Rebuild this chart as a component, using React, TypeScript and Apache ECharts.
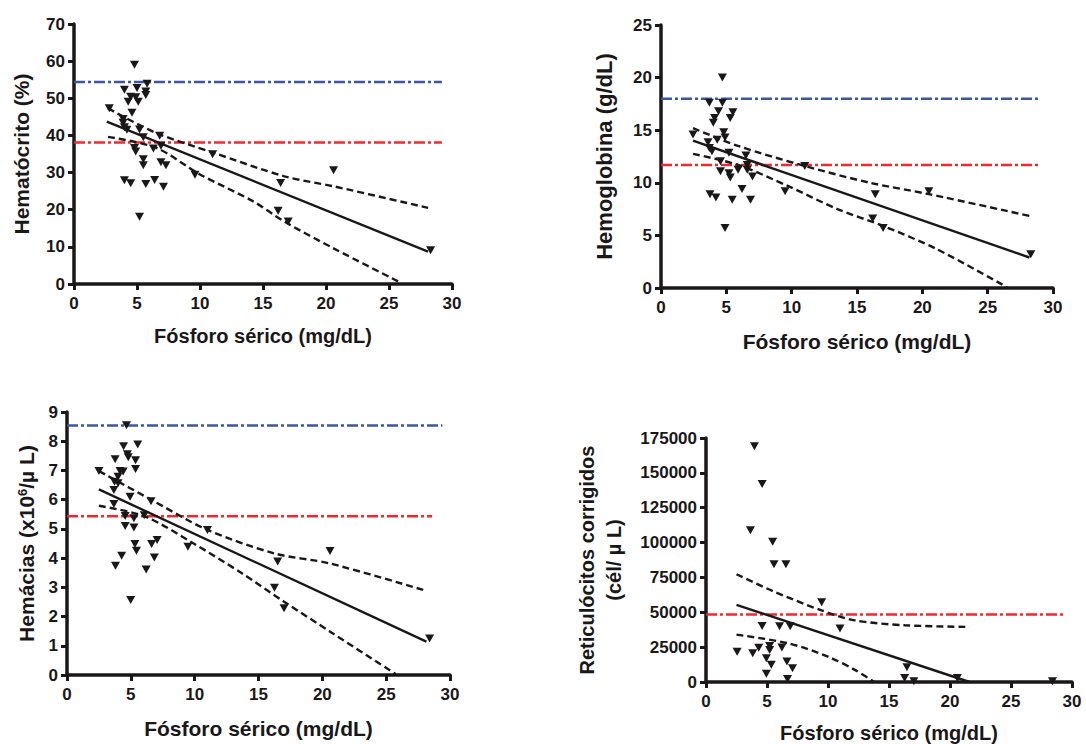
import React, { useEffect, useRef } from 'react';
import * as echarts from 'echarts';

const INK = '#1a1718';
const BLUE = '#3b56a5';
const RED = '#ee2a2e';
const FONT = '"Liberation Sans", Arial, Helvetica, sans-serif';

const phosphorusMin = 0;
const phosphorusMax = 30;
const phosphorusStep = 5;
const xTitle = 'Fósforo sérico (mg/dL)';

// Panel 1: Hematócrito (%)
const hctPoints = [
  [4.8, 59.0], [5.8, 53.9], [4.0, 52.3], [5.0, 52.8], [5.7, 51.8], [5.7, 50.9], [4.5, 50.4], [4.9, 50.3],
  [4.3, 49.1], [5.1, 49.1], [2.8, 47.3], [4.6, 46.1], [3.9, 44.4], [3.9, 43.4], [4.0, 42.2], [4.2, 41.5],
  [5.2, 41.6], [5.5, 39.5], [6.8, 39.9], [6.9, 37.2], [4.8, 36.6], [4.9, 35.7], [6.3, 36.5], [5.5, 33.6],
  [5.5, 32.0], [6.9, 32.8], [7.3, 32.0], [4.0, 27.9], [4.5, 27.1], [5.7, 26.9], [6.4, 28.0], [7.1, 26.2],
  [5.2, 18.1], [9.6, 29.4], [11.0, 34.9], [16.4, 27.2], [16.2, 19.7], [17.0, 16.8], [20.6, 30.6], [28.3, 9.1],
];
const hctFit = [[2.6, 43.7], [28.1, 8.7]];
const hctUpper = [[2.7, 47.3], [6.5, 40.7], [11.1, 35.3], [16.7, 29.0], [20.6, 26.3], [28.1, 20.5]];
const hctLower = [[2.7, 39.6], [6.5, 36.7], [10.0, 29.5], [14.2, 22.3], [16.7, 16.8], [20.6, 9.6], [25.9, 0.4]];
const hctRefHigh = 54.4;
const hctRefLow = 38.1;
const hctRefEnd = 29.2;
const hctMax = 70;
const hctStep = 10;

// Panel 2: Hemoglobina (g/dL)
const hbPoints = [
  [4.7, 20.0], [3.7, 17.6], [4.7, 17.6], [4.4, 16.8], [5.5, 16.7], [4.1, 16.15], [5.3, 16.15], [4.0, 15.7],
  [2.45, 14.6], [4.8, 14.8], [4.9, 14.3], [3.6, 13.85], [3.7, 13.3], [4.3, 14.1], [3.9, 13.0], [5.2, 12.85],
  [6.5, 12.6], [4.55, 12.05], [6.6, 11.7], [4.55, 11.1], [5.9, 11.25], [6.6, 11.25], [5.2, 10.9], [5.3, 10.5],
  [7.0, 10.6], [6.2, 9.4], [3.75, 8.9], [4.2, 8.6], [5.45, 8.4], [6.85, 8.4], [9.5, 9.2], [11.0, 11.6],
  [4.9, 5.7], [16.4, 8.9], [16.2, 6.6], [17.0, 5.7], [20.5, 9.2], [28.3, 3.2],
];
const hbFit = [[2.45, 14.0], [28.2, 2.9]];
const hbUpper = [[2.45, 15.2], [5.9, 13.5], [11.0, 11.6], [16.0, 10.0], [20.6, 8.9], [28.2, 6.85]];
const hbLower = [[2.45, 12.75], [5.9, 11.7], [9.7, 9.7], [13.5, 7.5], [17.0, 5.9], [21.1, 3.7], [26.5, 0.06]];
const hbRefHigh = 18.0;
const hbRefLow = 11.7;
const hbRefEnd = 28.9;
const hbMax = 25;
const hbStep = 5;

// Panel 3: Hemácias (x10^6/µL)
const rbcPoints = [
  [4.66, 8.55], [4.43, 7.83], [5.54, 7.89], [4.73, 7.55], [4.8, 7.45], [3.77, 7.38], [5.37, 7.35], [5.37, 7.05],
  [2.5, 6.98], [4.15, 6.98], [4.4, 6.96], [4.0, 6.78], [3.72, 6.61], [4.0, 6.56], [3.67, 6.33], [4.94, 6.1],
  [6.58, 5.95], [3.67, 5.85], [4.56, 5.44], [5.24, 5.36], [6.05, 5.47], [4.56, 5.1], [5.24, 5.05], [5.32, 4.48],
  [5.44, 4.25], [6.63, 4.48], [7.06, 4.62], [6.84, 4.02], [4.28, 4.08], [3.8, 3.74], [6.2, 3.61], [4.99, 2.57],
  [9.47, 4.39], [11.0, 4.96], [16.5, 3.88], [16.25, 2.99], [17.0, 2.28], [20.6, 4.24], [28.4, 1.25],
];
const rbcFit = [[2.5, 6.35], [28.15, 1.14]];
const rbcUpper = [[2.5, 6.98], [6.63, 5.99], [10.94, 4.98], [16.25, 4.16], [20.56, 3.82], [27.9, 2.91]];
const rbcLower = [[2.5, 5.79], [6.13, 5.42], [9.92, 4.5], [13.7, 3.48], [17.0, 2.51], [20.8, 1.43], [25.75, 0.03]];
const rbcRefHigh = 8.54;
const rbcRefLow = 5.43;
const rbcRefHighEnd = 29.4;
const rbcRefLowEnd = 28.6;
const rbcMax = 9;
const rbcStep = 1;

// Panel 4: Reticulócitos corrigidos (cél/µL)
const retPoints = [
  [3.97, 169000], [4.6, 142000], [3.64, 108800], [5.46, 100500], [5.57, 84400], [6.55, 84400], [9.48, 57200],
  [10.98, 38300], [4.6, 40200], [6.03, 39950], [6.9, 39950], [2.55, 21700], [3.83, 20600], [4.32, 24600],
  [5.22, 25800], [5.22, 22900], [6.22, 24800], [4.95, 17000], [5.35, 12300], [6.63, 14700], [7.09, 9900],
  [4.95, 5900], [6.68, 2100], [16.47, 10600], [16.28, 2800], [17.04, 500], [20.6, 2800], [28.4, 500],
];
const retFit = [[2.5, 55300], [21.6, 0]];
const retUpper = [[2.5, 77300], [5.4, 65500], [9.48, 51300], [12.2, 44200], [16.3, 40700], [21.6, 39500]];
const retLower = [[2.5, 34000], [6.77, 27700], [10.0, 18200], [12.2, 8700], [13.8, 0]];
const retRefLow = 48500;
const retRefEnd = 29.45;
const retMax = 175000;
const retStep = 25000;

const triangle = 'path://M0,0 L10,0 L5,9 Z';

const plain = (v: number) => String(v);

function xAxis(gridIndex: number, nameGap: number, nameSize: number) {
  return {
    type: 'value',
    gridIndex,
    min: phosphorusMin,
    max: phosphorusMax,
    interval: phosphorusStep,
    name: xTitle,
    nameLocation: 'middle',
    nameGap,
    nameTextStyle: { fontFamily: FONT, fontWeight: 'bold', fontSize: nameSize, color: INK },
    axisLine: { show: true, lineStyle: { color: INK, width: 3.5 } },
    axisTick: { show: true, length: 6, lineStyle: { color: INK, width: 3 } },
    axisLabel: { fontFamily: FONT, fontWeight: 'bold', fontSize: 17, color: INK, margin: 11, formatter: plain },
    splitLine: { show: false },
  };
}

function yAxis(gridIndex: number, max: number, interval: number, name: string, nameGap: number, nameSize: number, extra: any = {}) {
  return {
    type: 'value',
    gridIndex,
    min: 0,
    max,
    interval,
    name,
    nameLocation: 'middle',
    nameGap,
    nameTextStyle: { fontFamily: FONT, fontWeight: 'bold', fontSize: nameSize, color: INK, ...(extra.nameTextStyle || {}) },
    axisLine: { show: true, lineStyle: { color: INK, width: 3.5 } },
    axisTick: { show: true, length: 6, lineStyle: { color: INK, width: 3 } },
    axisLabel: { fontFamily: FONT, fontWeight: 'bold', fontSize: 17, color: INK, margin: 9, formatter: plain },
    splitLine: { show: false },
  };
}

function panelSeries(i: number, points: number[][], fit: number[][], upper: number[][], lower: number[][], refs: { value: number; end: number; color: string }[]) {
  const base = { xAxisIndex: i, yAxisIndex: i };
  const out: any[] = [];
  refs.forEach((r) => {
    out.push({
      ...base,
      type: 'line',
      data: [[phosphorusMin, r.value], [r.end, r.value]],
      symbol: 'none',
      lineStyle: { color: r.color, width: 2.5, type: [11, 3, 3, 3] },
      z: 1,
    });
  });
  out.push({ ...base, type: 'line', data: fit, symbol: 'none', lineStyle: { color: INK, width: 2.4 }, z: 2 });
  [upper, lower].forEach((band) => {
    out.push({
      ...base,
      type: 'line',
      data: band,
      symbol: 'none',
      smooth: 0.3,
      lineStyle: { color: INK, width: 2.4, type: [7, 4] },
      z: 2,
    });
  });
  out.push({
    ...base,
    type: 'scatter',
    data: points,
    symbol: triangle,
    symbolSize: [9, 8],
    itemStyle: { color: INK, opacity: 1 },
    z: 3,
  });
  return out;
}

export default function App() {
  const ref = useRef<HTMLDivElement>(null);
  useEffect(() => {
    if (!ref.current) return;
    const chart = echarts.init(ref.current, undefined, { renderer: 'svg' });
    const option: any = {
      animation: false,
      backgroundColor: '#ffffff',
      grid: [
        { left: 74, top: 24, width: 378, height: 260 },
        { left: 661, top: 25, width: 392, height: 263 },
        { left: 67, top: 412, width: 383, height: 263 },
        { left: 706, top: 438, width: 366, height: 248 },
      ],
      xAxis: [xAxis(0, 42, 20), xAxis(1, 43, 21), xAxis(2, 43, 21), xAxis(3, 41, 20)],
      yAxis: [
        yAxis(0, hctMax, hctStep, 'Hematócrito (%)', 42, 21),
        yAxis(1, hbMax, hbStep, 'Hemoglobina (g/dL)', 46, 22),
        yAxis(2, rbcMax, rbcStep, 'Hemácias (x10{sup|6}/µ L)', 30, 21, {
          nameTextStyle: {
            rich: {
              sup: { fontFamily: FONT, fontWeight: 'bold', fontSize: 13, color: INK, verticalAlign: 'top', lineHeight: 14 },
            },
          },
        }),
        yAxis(3, retMax, retStep, 'Reticulócitos corrigidos\n(cél/ µ L)', 79, 20, { nameTextStyle: { lineHeight: 27 } }),
      ],
      series: [
        ...panelSeries(0, hctPoints, hctFit, hctUpper, hctLower, [
          { value: hctRefHigh, end: hctRefEnd, color: BLUE },
          { value: hctRefLow, end: hctRefEnd, color: RED },
        ]),
        ...panelSeries(1, hbPoints, hbFit, hbUpper, hbLower, [
          { value: hbRefHigh, end: hbRefEnd, color: BLUE },
          { value: hbRefLow, end: hbRefEnd, color: RED },
        ]),
        ...panelSeries(2, rbcPoints, rbcFit, rbcUpper, rbcLower, [
          { value: rbcRefHigh, end: rbcRefHighEnd, color: BLUE },
          { value: rbcRefLow, end: rbcRefLowEnd, color: RED },
        ]),
        ...panelSeries(3, retPoints, retFit, retUpper, retLower, [
          { value: retRefLow, end: retRefEnd, color: RED },
        ]),
      ],
    };
    chart.setOption(option);
    return () => chart.dispose();
  }, []);
  return <div ref={ref} style={{ position: 'fixed', left: 0, top: 0, width: 1086, height: 744, background: '#fff' }} />;
}
